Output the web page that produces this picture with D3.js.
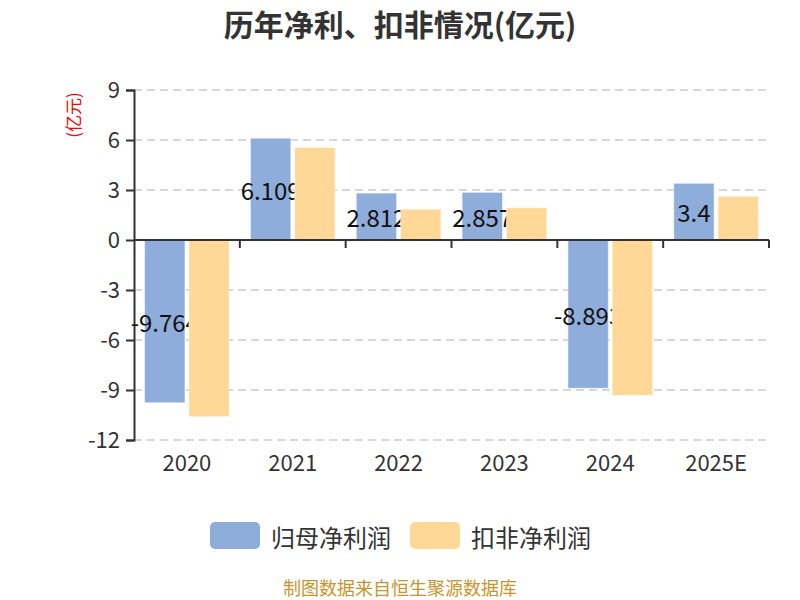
<!DOCTYPE html>
<html>
<head>
<meta charset="utf-8">
<script src="https://cdnjs.cloudflare.com/ajax/libs/d3/7.8.5/d3.min.js"></script>
<style>
  body { margin: 0; background: #fff; }
  text { font-family: "Noto Sans CJK SC", "Noto Sans", sans-serif; }
</style>
</head>
<body>
<div id="chart"></div>
<script>
// data (亿元)
let years = ["2020", "2021", "2022", "2023", "2024", "2025E"]
let seriesNames = ["归母净利润", "扣非净利润"]
let netProfit = [-9.764, 6.109, 2.812, 2.857, -8.893, 3.4]
let deductedProfit = [-10.6, 5.55, 1.85, 1.93, -9.32, 2.62]
let yTicks = [-12, -9, -6, -3, 0, 3, 6, 9]
let colors = ["#8eaddb", "#ffd898"]

let svgWidth = 800, svgHeight = 600
let margin = {top: 90, right: 31, bottom: 160, left: 134}

let svg = d3.select("#chart").append("svg")
  .attr("width", svgWidth)
  .attr("height", svgHeight)

let xScale = d3.scaleBand()
  .domain(years)
  .range([margin.left, svgWidth - margin.right])

let x1 = d3.scaleBand()
  .domain(seriesNames)
  .range([0, xScale.bandwidth()])
  .paddingInner(0.09)
  .paddingOuter(0.24)

let yScale = d3.scaleLinear()
  .domain([-12, 9])
  .range([svgHeight - margin.bottom, margin.top])

// title
svg.append("text")
  .attr("x", 400).attr("y", 23)
  .attr("text-anchor", "middle")
  .attr("dominant-baseline", "central")
  .style("font-size", "30px").style("font-weight", "bold")
  .style("fill", "#333")
  .text("历年净利、扣非情况(亿元)")

// unit label
svg.append("text")
  .attr("transform", "translate(72,115) rotate(-90)")
  .attr("text-anchor", "middle")
  .attr("dominant-baseline", "central")
  .style("font-size", "17px").style("fill", "#ff0000")
  .text("(亿元)")

// dashed grid
svg.append("g").selectAll("line")
  .data(yTicks.filter(d => d != 0))
  .enter().append("line")
  .attr("x1", margin.left).attr("x2", svgWidth - margin.right)
  .attr("y1", d => yScale(d)).attr("y2", d => yScale(d))
  .style("stroke", "#cccccc").style("stroke-width", 1.5)
  .style("stroke-dasharray", "8,5")

// y axis, plain hyphen for negatives like the original
let yAxis = d3.axisLeft(yScale).tickValues(yTicks).tickSize(8).tickPadding(6)
  .tickFormat(d => String(d))
let yG = svg.append("g")
  .attr("transform", "translate(" + margin.left + ",0)")
  .call(yAxis)
yG.select(".domain").style("stroke", "#333").style("stroke-width", 2)
yG.selectAll(".tick line").style("stroke", "#333").style("stroke-width", 2)
yG.selectAll(".tick text").style("font-size", "22px").style("fill", "#333")
  .style("font-family", "\"Noto Sans CJK SC\", sans-serif")

// bars, blue series + its labels first, orange drawn on top
let barsArea = svg.append("g")
let series = [netProfit, deductedProfit]
series.forEach(function(vals, s) {
  barsArea.append("g").selectAll("rect")
    .data(vals)
    .enter().append("rect")
    .attr("x", (d, i) => xScale(years[i]) + x1(seriesNames[s]))
    .attr("width", x1.bandwidth())
    .attr("y", d => Math.min(yScale(d), yScale(0)))
    .attr("height", d => Math.abs(yScale(d) - yScale(0)))
    .style("fill", colors[s])
    .style("stroke", "#ffffff").style("stroke-opacity", 0.45).style("stroke-width", 1)

  if (s == 0) {
    barsArea.append("g").selectAll("text")
      .data(vals)
      .enter().append("text")
      .attr("x", (d, i) => xScale(years[i]) + x1(seriesNames[0]) + x1.bandwidth() / 2)
      .attr("y", d => (yScale(d) + yScale(0)) / 2)
      .attr("text-anchor", "middle")
      .attr("dominant-baseline", "central")
      .style("font-size", "24px").style("fill", "#111")
      .text(d => d)
  }
})

// x axis line at zero with ticks on band edges
let xLine = svg.append("g")
xLine.append("line")
  .attr("x1", margin.left).attr("x2", svgWidth - margin.right)
  .attr("y1", yScale(0)).attr("y2", yScale(0))
  .style("stroke", "#333").style("stroke-width", 2)
let edges = years.map(d => xScale(d)).concat([xScale.range()[1]])
xLine.selectAll(".edge")
  .data(edges.slice(1))
  .enter().append("line")
  .attr("x1", d => d).attr("x2", d => d)
  .attr("y1", yScale(0)).attr("y2", yScale(0) + 8)
  .style("stroke", "#333").style("stroke-width", 2)

// category labels along the bottom
let xAxis = d3.axisBottom(xScale).tickSize(0).tickPadding(15)
let xG = svg.append("g")
  .attr("transform", "translate(0," + (svgHeight - margin.bottom) + ")")
  .call(xAxis)
xG.select(".domain").remove()
xG.selectAll(".tick text").style("font-size", "22px").style("fill", "#333")
  .style("font-family", "\"Noto Sans CJK SC\", sans-serif")

// legend
let legend = svg.append("g")
seriesNames.forEach(function(name, i) {
  let lx = 210 + i * 200
  legend.append("rect")
    .attr("x", lx).attr("y", 522)
    .attr("width", 50).attr("height", 27).attr("rx", 5)
    .style("fill", colors[i])
  legend.append("text")
    .attr("x", lx + 61).attr("y", 536)
    .attr("dominant-baseline", "central")
    .style("font-size", "24px").style("fill", "#333")
    .text(name)
})

// source note
svg.append("text")
  .attr("x", 400).attr("y", 587)
  .attr("text-anchor", "middle")
  .attr("dominant-baseline", "central")
  .style("font-size", "18px").style("fill", "#c8952c")
  .text("制图数据来自恒生聚源数据库")
</script>
</body>
</html>
